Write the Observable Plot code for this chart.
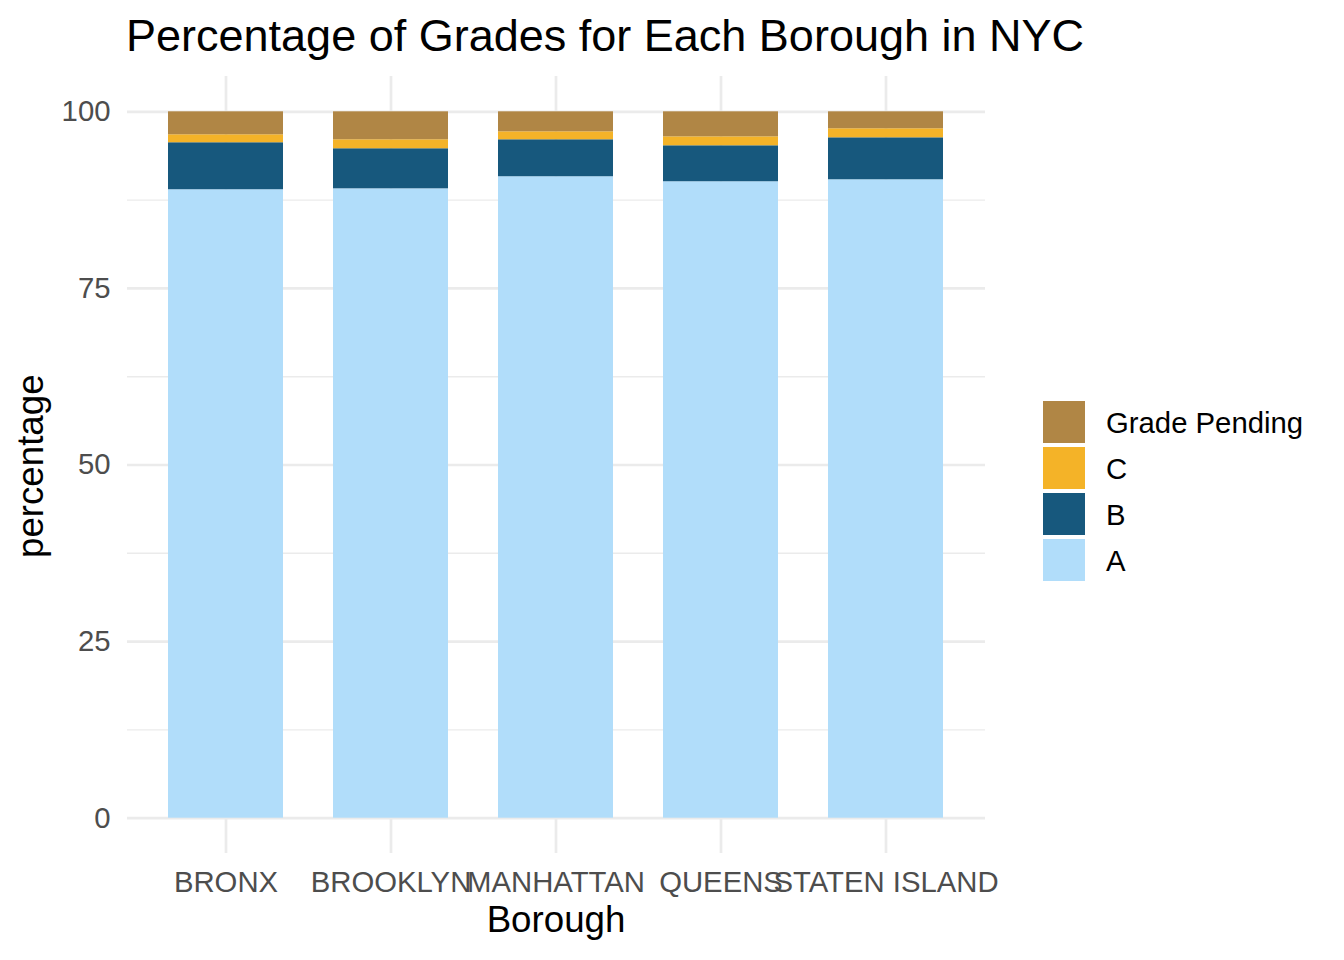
<!DOCTYPE html>
<html>
<head>
<meta charset="utf-8">
<script src="https://cdn.jsdelivr.net/npm/d3@7"></script>
<script src="https://cdn.jsdelivr.net/npm/@observablehq/plot@0.6"></script>
<style>
  html, body { margin: 0; padding: 0; background: #fff; }
  #wrap { position: relative; width: 1344px; height: 960px; font-family: "Liberation Sans", Arial, Helvetica, sans-serif; }
  .txt { position: absolute; white-space: nowrap; color: #000; line-height: 1; }
</style>
</head>
<body>
<div id="wrap"></div>
<script>
const boroughs = ["BRONX", "BROOKLYN", "MANHATTAN", "QUEENS", "STATEN ISLAND"];
const grades = ["A", "B", "C", "Grade Pending"];
const gradeColors = ["#B1DDFA", "#17587D", "#F4B328", "#B08645"];
const pctA  = [88.97, 89.10, 90.81, 90.10, 90.38];
const pctB  = [6.65, 5.67, 5.23, 5.09, 5.94];
const pctC  = [1.13, 1.27, 1.13, 1.27, 1.28];
const pctGP = [3.25, 3.96, 2.83, 3.54, 2.40];
const yTicks = [0, 25, 50, 75, 100];
const yMinor = [12.5, 37.5, 62.5, 87.5];

const series = [pctA, pctB, pctC, pctGP];
const data = [];
boroughs.forEach((b, i) => grades.forEach((g, j) => data.push({borough: b, grade: g, pct: series[j][i]})));

const font = '"Liberation Sans", Arial, Helvetica, sans-serif';
const chart = Plot.plot({
  width: 1344,
  height: 960,
  marginLeft: 127,
  marginRight: 359,
  marginTop: 76,
  marginBottom: 107,
  style: {fontFamily: font, background: "transparent", overflow: "visible"},
  x: {domain: boroughs, paddingInner: 0.3, paddingOuter: 0.25, label: null},
  y: {domain: [-5, 105], label: null},
  color: {domain: grades, range: gradeColors},
  marks: [
    Plot.gridY(yMinor, {stroke: "#EBEBEB", strokeOpacity: 1, strokeWidth: 1.4}),
    Plot.gridY(yTicks, {stroke: "#EBEBEB", strokeOpacity: 1, strokeWidth: 2.7}),
    Plot.gridX(boroughs, {stroke: "#EBEBEB", strokeOpacity: 1, strokeWidth: 2.7}),
    Plot.barY(data, {x: "borough", y: "pct", fill: "grade", order: grades, inset: 0}),
    Plot.axisY(yTicks, {tickSize: 0, tickPadding: 17, fontSize: 29.3, fill: "#4D4D4D", label: null}),
    Plot.axisX({tickSize: 0, tickPadding: 18, fontSize: 29.3, fill: "#4D4D4D", label: null})
  ]
});
const wrap = document.getElementById("wrap");
chart.style.position = "absolute";
chart.style.left = "0px";
chart.style.top = "0px";
wrap.appendChild(chart);

const BASE = 0.8465; // baseline offset within a line-height:1 box (Liberation Sans)
function addText(str, left, baseline, size, extra) {
  const d = document.createElement("div");
  d.className = "txt";
  d.textContent = str;
  d.style.left = left + "px";
  d.style.top = (baseline - BASE * size) + "px";
  d.style.fontSize = size + "px";
  if (extra) Object.assign(d.style, extra);
  wrap.appendChild(d);
  return d;
}

// Title
addText("Percentage of Grades for Each Borough in NYC", 126, 51.5, 45);
// x axis title centered on panel
addText("Borough", 0, 933, 36.7, {width: "1112px", textAlign: "center"});
// y axis title rotated
const yt = addText("percentage", 0, 0, 36.7, {transformOrigin: "0 0"});
const yw = yt.getBoundingClientRect().width;
yt.style.left = (44 - BASE * 36.7) + "px";
yt.style.top = (466 + yw / 2) + "px";
yt.style.transform = "rotate(-90deg)";

// Legend (reverse order)
const legendOrder = grades.slice().reverse();
legendOrder.forEach((g, i) => {
  const top = 401 + i * 46;
  const key = document.createElement("div");
  key.style.position = "absolute";
  key.style.left = "1043px";
  key.style.top = top + "px";
  key.style.width = "42px";
  key.style.height = "42px";
  key.style.background = gradeColors[grades.indexOf(g)];
  wrap.appendChild(key);
  addText(g, 1106, top + 21 + 0.358 * 29.3, 29.3);
});
</script>
</body>
</html>
